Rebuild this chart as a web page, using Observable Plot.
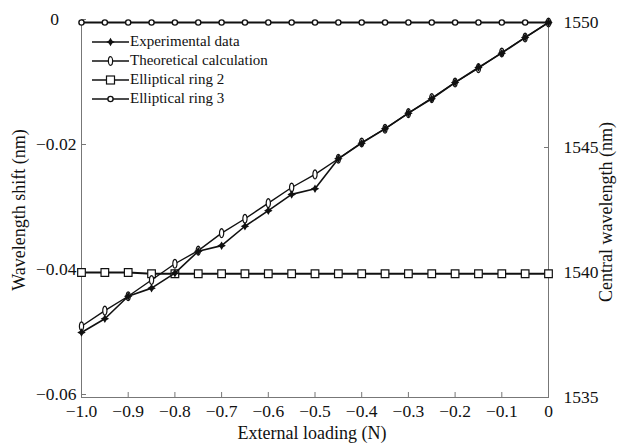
<!DOCTYPE html>
<html>
<head>
<meta charset="utf-8">
<script src="https://cdn.jsdelivr.net/npm/d3@7"></script>
<script src="https://cdn.jsdelivr.net/npm/@observablehq/plot@0.6"></script>
<style>
  html, body { margin: 0; padding: 0; background: #fff; }
  #wrap { position: relative; width: 621px; height: 443px; font-family: "Liberation Serif", "Times New Roman", serif; }
  #wrap svg text { font-family: "Liberation Serif", "Times New Roman", serif; font-size: 17.5px; fill: #111; }
  #legend { position: absolute; left: 92px; top: 32px; font-size: 15px; line-height: 19px; color: #111; }
  #legend .row { display: flex; align-items: center; height: 19px; }
  #legend svg { margin-right: 1px; }
  .title { position: absolute; font-size: 18px; line-height: 18px; white-space: nowrap; color: #111; }
</style>
</head>
<body>
<div id="wrap"></div>
<script>
// ---- data ----
const loading = [-1.0, -0.95, -0.9, -0.85, -0.8, -0.75, -0.7, -0.65, -0.6, -0.55, -0.5,
                 -0.45, -0.4, -0.35, -0.3, -0.25, -0.2, -0.15, -0.1, -0.05, 0];
const experimental = [-0.0496, -0.0474, -0.0438, -0.0425, -0.0401, -0.0366, -0.0357, -0.0326, -0.0301, -0.0275, -0.0266,
                      -0.0218, -0.0193, -0.0170, -0.0145, -0.0122, -0.0096, -0.0072, -0.0049, -0.0024, 0];
const theoretical = [-0.0486, -0.0461, -0.0438, -0.0412, -0.0386, -0.0365, -0.0337, -0.0314, -0.0289, -0.0264, -0.0243,
                     -0.0218, -0.0192, -0.0170, -0.0145, -0.0121, -0.0096, -0.0073, -0.0048, -0.0024, 0];
// central wavelengths (nm), right axis
const ring2 = [1540.0, 1540.0, 1540.0, 1539.95, 1539.95, 1539.95, 1539.95, 1539.95, 1539.95, 1539.95, 1539.95,
               1539.95, 1539.95, 1539.95, 1539.95, 1539.95, 1539.95, 1539.95, 1539.95, 1539.95, 1539.95];
const ring3 = [1550, 1550, 1550, 1550, 1550, 1550, 1550, 1550, 1550, 1550, 1550,
               1550, 1550, 1550, 1550, 1550, 1550, 1550, 1550, 1550, 1550];
const xTicks = [-1.0, -0.9, -0.8, -0.7, -0.6, -0.5, -0.4, -0.3, -0.2, -0.1, 0];
const yTicks = [0, -0.02, -0.04, -0.06];
const rightTickLabels = ["1550", "1545", "1540", "1535"];
const seriesNames = ["Experimental data", "Theoretical calculation", "Elliptical ring 2", "Elliptical ring 3"];

// right axis (1535–1550 nm) aligned with left axis (−0.06–0 nm)
const toShift = nm => (nm - 1550) * 0.06 / 15;

const rows = (ys, series) => loading.map((x, i) => ({x, y: ys[i], series}));
const expData = rows(experimental, "exp");
const theoData = rows(theoretical, "theo");
const r2Data = rows(ring2.map(toShift), "r2");
const r3Data = rows(ring3.map(toShift), "r3");

// narrow open ellipse symbol
const narrowEllipse = {
  draw(ctx, size) {
    const r = Math.sqrt(size / Math.PI);
    const rx = r * 0.5, ry = r * 1.05, n = 16;
    for (let k = 0; k <= n; k++) {
      const a = (k / n) * 2 * Math.PI;
      const px = rx * Math.cos(a), py = ry * Math.sin(a);
      if (k === 0) ctx.moveTo(px, py); else ctx.lineTo(px, py);
    }
    ctx.closePath();
  }
};
// filled 4-point star
const star4 = {
  draw(ctx, size) {
    const r = Math.sqrt(size / Math.PI) * 1.25, q = r * 0.38;
    ctx.moveTo(0, -r); ctx.lineTo(q, -q); ctx.lineTo(r, 0); ctx.lineTo(q, q);
    ctx.lineTo(0, r); ctx.lineTo(-q, q); ctx.lineTo(-r, 0); ctx.lineTo(-q, -q); ctx.closePath();
  }
};

const fmtX = d => d === 0 ? "0" : d.toFixed(1).replace("-", "\u2212");
// the reference's "0" sits left of the other labels' right edge
const fmtY = d => d === 0 ? "0\u2007\u2007" : d.toFixed(2).replace("-", "\u2212");

const axisColor = "#777";

const chart = Plot.plot({
  width: 621,
  height: 443,
  marginLeft: 81,
  marginRight: 73,
  marginTop: 22,
  marginBottom: 46,
  style: {fontFamily: "Liberation Serif, Times New Roman, serif", fontSize: "17.5px", color: "#111", background: "white"},
  x: {domain: [-1.0, 0]},
  y: {domain: [-0.06, 0]},
  marks: [
    // axis lines
    Plot.ruleX([-1.0], {stroke: axisColor, strokeWidth: 1}),
    Plot.ruleX([0], {stroke: axisColor, strokeWidth: 1}),
    Plot.ruleY([-0.06], {stroke: axisColor, strokeWidth: 1}),
    Plot.axisX({ticks: xTicks, tickFormat: fmtX, tickSize: -5, tickPadding: 12, stroke: axisColor, label: null}),
    Plot.axisY({anchor: "left", ticks: yTicks, tickFormat: fmtY, tickSize: -5, tickPadding: 10, dy: -3, stroke: axisColor, label: null}),
    Plot.axisY({anchor: "right", ticks: yTicks, tickFormat: (d, i) => rightTickLabels[i], tickSize: -5, tickPadding: 20, stroke: axisColor, label: null}),
    // rings
    Plot.line(r3Data, {x: "x", y: "y", stroke: "#111", strokeWidth: 2}),
    Plot.dot(r3Data, {x: "x", y: "y", symbol: "circle", r: 2.6, fill: "white", stroke: "#111", strokeWidth: 1.4}),
    Plot.line(r2Data, {x: "x", y: "y", stroke: "#111", strokeWidth: 2}),
    Plot.dot(r2Data, {x: "x", y: "y", symbol: "square", r: 4.3, fill: "white", stroke: "#111", strokeWidth: 1.2}),
    // theoretical
    Plot.line(theoData, {x: "x", y: "y", stroke: "#111", strokeWidth: 1.4}),
    Plot.dot(theoData, {x: "x", y: "y", symbol: narrowEllipse, r: 4.2, fill: "white", stroke: "#111", strokeWidth: 1.2}),
    // experimental
    Plot.line(expData, {x: "x", y: "y", stroke: "#111", strokeWidth: 1.6}),
    Plot.dot(expData, {x: "x", y: "y", symbol: star4, r: 3.4, fill: "#111", stroke: "none"})
  ]
});

const wrap = document.getElementById("wrap");
wrap.appendChild(chart);

// axis titles
const titles = document.createElement("div");
titles.innerHTML = `
  <div class="title" style="left:312px;top:424px;transform:translateX(-50%);">External loading (N)</div>
  <div class="title" style="left:19px;top:210px;transform:translate(-50%,-50%) rotate(-90deg);">Wavelength shift (nm)</div>
  <div class="title" style="left:606px;top:212px;transform:translate(-50%,-50%) rotate(-90deg);">Central wavelength (nm)</div>`;
wrap.appendChild(titles);

// legend
const legend = document.createElement("div");
legend.id = "legend";
const symbolSvgs = [
  `<path d="M0,-4.2 L1.6,-1.6 L4.2,0 L1.6,1.6 L0,4.2 L-1.6,1.6 L-4.2,0 L-1.6,-1.6Z" fill="#111"/>`,
  `<ellipse rx="2.1" ry="4.3" fill="white" stroke="#111" stroke-width="1.2"/>`,
  `<rect x="-4" y="-4" width="8" height="8" fill="white" stroke="#111" stroke-width="1.2"/>`,
  `<circle r="2.6" fill="white" stroke="#111" stroke-width="1.4"/>`
];
seriesNames.forEach((name, i) => {
  const row = document.createElement("div");
  row.className = "row";
  row.innerHTML = `<svg width="37" height="12" viewBox="0 0 37 12"><line x1="0" y1="6" x2="37" y2="6" stroke="#111" stroke-width="1.6"/><g transform="translate(18.5,6)">${symbolSvgs[i]}</g></svg><span>${name}</span>`;
  legend.appendChild(row);
});
wrap.appendChild(legend);
</script>
</body>
</html>
